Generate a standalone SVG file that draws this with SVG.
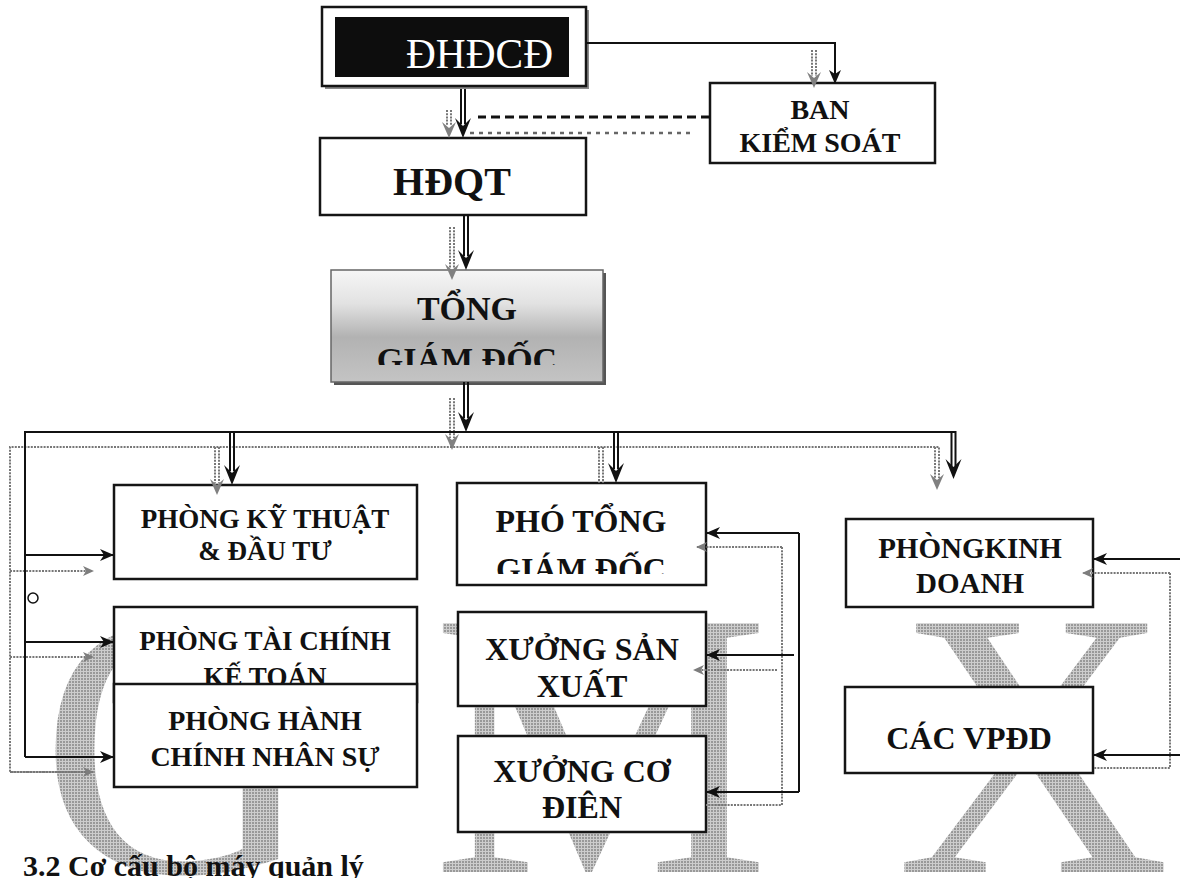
<svg xmlns="http://www.w3.org/2000/svg" width="1180" height="878" viewBox="0 0 1180 878">
<defs>
<style>
.box{fill:#fff;stroke:#151515;stroke-width:2.5}
.t{font-family:"Liberation Serif","Times New Roman",serif;font-weight:bold;fill:#111;text-anchor:middle}
.wm{font-family:"Liberation Serif","Times New Roman",serif;font-size:380px;fill:url(#dots)}
.ln{fill:none;stroke:#111;stroke-width:2}
.sh{fill:none;stroke:#777;stroke-width:2;stroke-dasharray:2 1.2}
</style>
<pattern id="dots" width="3" height="3" patternUnits="userSpaceOnUse">
<rect width="3" height="3" fill="#cdcdcd"/>
<rect width="2" height="2" fill="#999"/>
</pattern>
<marker id="ab" viewBox="0 0 14 12" refX="13" refY="6" markerWidth="14" markerHeight="12" markerUnits="userSpaceOnUse" orient="auto"><path d="M0,0 L14,6 L0,12 L4,6 Z" fill="#111"/></marker>
<marker id="ag" viewBox="0 0 11 10" refX="10" refY="5" markerWidth="11" markerHeight="10" markerUnits="userSpaceOnUse" orient="auto"><path d="M0,0 L11,5 L0,10 L3,5 Z" fill="#7d7d7d"/></marker>
<path id="hb" d="M-8,-20 L0,0 L8,-20 L0,-12 Z" fill="#111"/>
<path id="hg" d="M-7,-16 L0,0 L7,-16 L0,-10 Z" fill="#808080"/>
<linearGradient id="tgd" x1="0" y1="0" x2="0" y2="1">
<stop offset="0" stop-color="#f6f6f6"/>
<stop offset="0.3" stop-color="#e2e2e2"/>
<stop offset="0.6" stop-color="#b2b2b2"/>
<stop offset="1" stop-color="#c4c4c4"/>
</linearGradient>
<clipPath id="c1"><rect x="331" y="270" width="272" height="95"/></clipPath>
<clipPath id="c2"><rect x="457" y="483" width="249" height="91"/></clipPath>
</defs>
<rect width="1180" height="878" fill="#fff"/>

<g id="watermark">
<text class="wm" x="40" y="872">G</text>
<text class="wm" x="432" y="872">M</text>
<text class="wm" x="896" y="872">X</text>
</g>

<g id="n-dhdcd">
<rect x="325" y="10" width="264" height="79" fill="#8a8a8a"/>
<rect class="box" x="322" y="7" width="264" height="79"/>
<rect x="335" y="17" width="234" height="60" fill="#0d0d0d"/>
<text x="406" y="68" textLength="147" lengthAdjust="spacingAndGlyphs" style="font-family:'Liberation Serif','Times New Roman',serif;font-size:42px;fill:#fff">ĐHĐCĐ</text>
</g>

<g id="n-bks">
<rect class="box" x="710" y="83" width="225" height="80"/>
<text class="t" x="820" y="119" font-size="28">BAN</text>
<text class="t" x="820" y="152" font-size="28">KIỂM SOÁT</text>
</g>

<g id="n-hdqt">
<rect class="box" x="320" y="138" width="266" height="77"/>
<text class="t" x="452" y="195" font-size="40">HĐQT</text>
</g>

<g id="n-tgd">
<rect x="334" y="273" width="272" height="112" fill="#555"/>
<rect x="331" y="270" width="272" height="112" fill="url(#tgd)" stroke="#666" stroke-width="1.5"/>
<text class="t" x="467" y="320" font-size="34">TỔNG</text>
<text class="t" x="467" y="371" font-size="34" clip-path="url(#c1)">GIÁM ĐỐC</text>
</g>

<g id="n-pktdt">
<rect class="box" x="114" y="485" width="303" height="94"/>
<text class="t" x="265" y="528" font-size="27">PHÒNG KỸ THUẬT</text>
<text class="t" x="265" y="560" font-size="27">&amp; ĐẦU TƯ</text>
</g>

<g id="n-ptckt">
<rect class="box" x="114" y="607" width="303" height="95"/>
<text class="t" x="265" y="650" font-size="27">PHÒNG TÀI CHÍNH</text>
<text class="t" x="265" y="686" font-size="27">KẾ TOÁN</text>
</g>

<g id="n-phcns">
<rect class="box" x="114" y="684" width="303" height="103"/>
<text class="t" x="265" y="730" font-size="28">PHÒNG HÀNH</text>
<text class="t" x="265" y="766" font-size="28">CHÍNH NHÂN SỰ</text>
</g>

<g id="n-ptgd">
<rect class="box" x="457" y="483" width="249" height="102"/>
<text class="t" x="581" y="532" font-size="32">PHÓ TỔNG</text>
<text class="t" x="581" y="580" font-size="32" clip-path="url(#c2)">GIÁM ĐỐC</text>
</g>

<g id="n-xsx">
<rect class="box" x="458" y="612" width="248" height="94"/>
<text class="t" x="582" y="660" font-size="32">XƯỞNG SẢN</text>
<text class="t" x="582" y="697" font-size="32">XUẤT</text>
</g>

<g id="n-xcd">
<rect class="box" x="458" y="736" width="248" height="96"/>
<text class="t" x="582" y="782" font-size="32">XƯỞNG CƠ</text>
<text class="t" x="582" y="818" font-size="32">ĐIÊN</text>
</g>

<g id="n-pkd">
<rect class="box" x="846" y="519" width="247" height="88"/>
<text class="t" x="970" y="558" font-size="29">PHÒNGKINH</text>
<text class="t" x="970" y="593" font-size="29">DOANH</text>
</g>

<g id="n-vpdd">
<rect class="box" x="845" y="687" width="248" height="86"/>
<text class="t" x="969" y="749" font-size="32">CÁC VPĐD</text>
</g>

<g id="connectors">
<path class="sh" d="M812,50 V76 M816,50 V76"/>
<use href="#hg" x="814" y="88"/>
<path class="sh" d="M447,110 V126 M451,110 V126"/>
<use href="#hg" x="449" y="138"/>
<path d="M690,133 H468" fill="none" stroke="#666" stroke-width="2.5" stroke-dasharray="4 5"/>
<path class="sh" d="M450,227 V268 M454,227 V268"/>
<use href="#hg" x="452" y="280"/>
<path class="sh" d="M450,398 V438 M454,398 V438"/>
<use href="#hg" x="452" y="450"/>
<path class="sh" d="M93,772 H10 V447 H939 V478 M935,447 V478"/>
<use href="#hg" x="937" y="490"/>
<path class="sh" d="M10,571 H93" marker-end="url(#ag)"/>
<path class="sh" d="M10,657 H93" marker-end="url(#ag)"/>
<path class="sh" d="M10,772 H93" marker-end="url(#ag)"/>
<path class="sh" d="M215,447 V483 M219,447 V483"/>
<use href="#hg" x="217" y="495"/>
<path class="sh" d="M599,447 V483 M603,447 V483"/>
<path class="sh" d="M782,547 H697" marker-end="url(#ag)"/>
<path class="sh" d="M782,547 V805 H706"/>
<path class="sh" d="M777,670 H694" marker-end="url(#ag)"/>
<path class="sh" d="M1170,573 H1083" marker-end="url(#ag)"/>
<path class="sh" d="M1170,573 V768 H1094"/>

<path class="ln" d="M586,43 H835 V83" marker-end="url(#ab)"/>
<path class="ln" d="M461,89 V124 M465,89 V124"/>
<use href="#hb" x="463" y="138"/>
<path d="M710,117 H478" fill="none" stroke="#111" stroke-width="3" stroke-dasharray="9 5"/>
<path class="ln" d="M464,215 V256 M468,215 V256"/>
<use href="#hb" x="466" y="270"/>
<path class="ln" d="M464,382 V418 M468,382 V418"/>
<use href="#hb" x="466" y="432"/>
<path class="ln" d="M25,757 V432 H955.5 V466 M951.5,432 V466"/>
<use href="#hb" x="953.5" y="479"/>
<path class="ln" d="M25,555 H113" marker-end="url(#ab)"/>
<path class="ln" d="M25,642 H113" marker-end="url(#ab)"/>
<path class="ln" d="M25,757 H113" marker-end="url(#ab)"/>
<circle cx="33" cy="598" r="5" fill="#fff" stroke="#111" stroke-width="1.5"/>
<path class="ln" d="M230,432 V471 M234,432 V471"/>
<use href="#hb" x="232" y="485"/>
<path class="ln" d="M614,432 V469 M618,432 V469"/>
<use href="#hb" x="616" y="483"/>
<path class="ln" d="M799,533 H707" marker-end="url(#ab)"/>
<path class="ln" d="M799,533 V792"/>
<path class="ln" d="M799,792 H707" marker-end="url(#ab)"/>
<path class="ln" d="M794,655 H707" marker-end="url(#ab)"/>
<path class="ln" d="M1180,559 H1094" marker-end="url(#ab)"/>
<path class="ln" d="M1180,755 H1094" marker-end="url(#ab)"/>
</g>

<text x="23" y="876" style="font-family:'Liberation Serif','Times New Roman',serif;font-weight:bold;font-size:30px;fill:#111">3.2 Cơ cấu bộ máy quản lý</text>
</svg>
